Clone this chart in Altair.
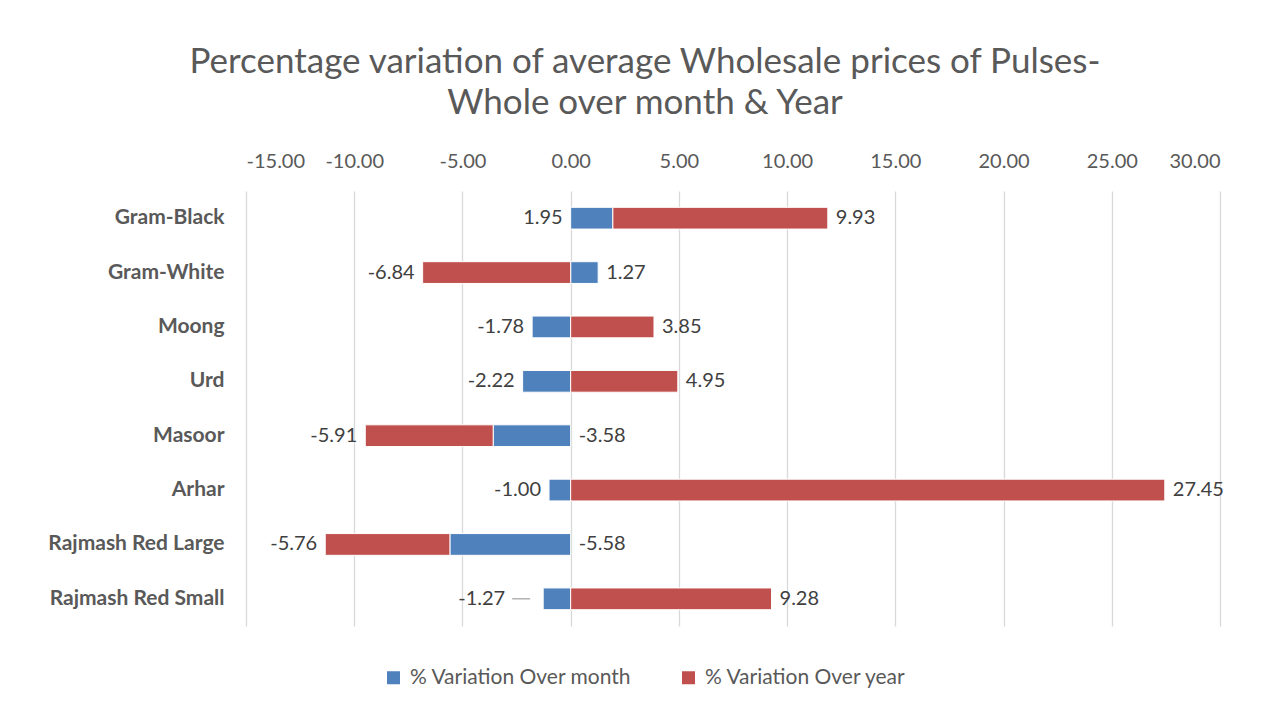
import altair as alt
import pandas as pd

categories = ["Gram-Black", "Gram-White", "Moong", "Urd", "Masoor", "Arhar",
              "Rajmash Red Large", "Rajmash Red  Small"]
month_var = [1.95, 1.27, -1.78, -2.22, -3.58, -1.00, -5.58, -1.27]
year_var = [9.93, -6.84, 3.85, 4.95, -5.91, 27.45, -5.76, 9.28]
series_names = ["% Variation Over month", "% Variation Over year"]
series_colors = ["#4F81BD", "#C0504D"]
x_ticks = [-15, -10, -5, 0, 5, 10, 15, 20, 25, 30]
title_lines = ["Percentage variation of  average  Wholesale prices of Pulses-",
               "Whole over month & Year"]

FONT = "Lato"

bar_rows = []
label_rows = []
for c, m, y in zip(categories, month_var, year_var):
    bar_rows.append(dict(category=c, series=series_names[0], value=m, order=0))
    bar_rows.append(dict(category=c, series=series_names[1], value=y, order=1))
    same = (m > 0) == (y > 0)
    if same:
        mpos = 0.0
        mside = "left" if m > 0 else "right"
        ypos = m + y
    else:
        mpos = m
        mside = "right" if m > 0 else "left"
        ypos = y
    yside = "right" if y > 0 else "left"
    label_rows.append(dict(category=c, pos=mpos, side=mside, text=f"{m:.2f}",
                           leader=(c == categories[-1])))
    label_rows.append(dict(category=c, pos=ypos, side=yside, text=f"{y:.2f}",
                           leader=False))

bars_df = pd.DataFrame(bar_rows)
labels_df = pd.DataFrame(label_rows)

x_scale = alt.Scale(domain=[x_ticks[0], x_ticks[-1]], nice=False, zero=False)
y_enc = alt.Y("category:N", sort=categories, title=None,
              scale=alt.Scale(paddingInner=0.6, paddingOuter=0.3),
              axis=alt.Axis(labelFont=FONT, labelFontSize=21, labelFontWeight="bold",
                            labelColor="#595959", labelPadding=22, domain=False,
                            ticks=False, minExtent=230, maxExtent=230, labelLimit=300))

bars = alt.Chart(bars_df).mark_bar(stroke="white", strokeWidth=1).encode(
    x=alt.X("value:Q", stack="zero", scale=x_scale, title=None,
            axis=alt.Axis(orient="top", values=x_ticks,
                          labelExpr="datum.value < 0 ? '-' + format(-datum.value, '.2f') : format(datum.value, '.2f')",
                          labelFont=FONT, labelFontSize=20, labelColor="#595959",
                          labelPadding=20, ticks=False, domain=False,
                          grid=True, gridColor="#d9d9d9", gridWidth=1.3,
                          minExtent=40, maxExtent=40)),
    y=y_enc,
    color=alt.Color("series:N", scale=alt.Scale(domain=series_names, range=series_colors),
                    legend=alt.Legend(title=None, orient="none", legendX=137, legendY=476,
                                      direction="horizontal", symbolType="square",
                                      symbolSize=169, symbolStrokeWidth=0,
                                      labelFont=FONT, labelFontSize=21, labelLimit=400,
                                      labelColor="#595959", columnPadding=46,
                                      labelOffset=6)),
    order=alt.Order("order:Q"),
)

base = alt.Chart(labels_df)
txt_kw = dict(font=FONT, fontSize=20, color="#404040", baseline="middle")

lab_right = base.transform_filter("datum.side == 'right' && !datum.leader").mark_text(
    align="left", dx=8, **txt_kw).encode(
    x=alt.X("pos:Q", scale=x_scale), y=alt.Y("category:N", sort=categories), text="text:N")
lab_left = base.transform_filter("datum.side == 'left' && !datum.leader").mark_text(
    align="right", dx=-8, **txt_kw).encode(
    x=alt.X("pos:Q", scale=x_scale), y=alt.Y("category:N", sort=categories), text="text:N")
lab_leader = base.transform_filter("datum.leader").mark_text(
    align="right", dx=-38, **txt_kw).encode(
    x=alt.X("pos:Q", scale=x_scale), y=alt.Y("category:N", sort=categories), text="text:N")
leader_line = base.transform_filter("datum.leader").mark_rule(
    color="#a6a6a6", strokeWidth=1.3, xOffset=-13, x2Offset=-31).encode(
    x=alt.X("pos:Q", scale=x_scale), x2="pos:Q", y=alt.Y("category:N", sort=categories))

chart = alt.layer(bars, leader_line, lab_right, lab_left, lab_leader).properties(
    width=974, height=435, background="white",
    padding={"left": 8, "top": 37, "right": 20, "bottom": 20},
    title=alt.TitleParams(text=title_lines, font=FONT, fontSize=35, fontWeight="normal",
                          color="#595959", lineHeight=41, offset=30, anchor="middle",
                          dx=-88),
).configure_view(stroke="transparent", strokeWidth=0)

chart.save("out.html", embed_options={"renderer": "svg", "actions": False})
